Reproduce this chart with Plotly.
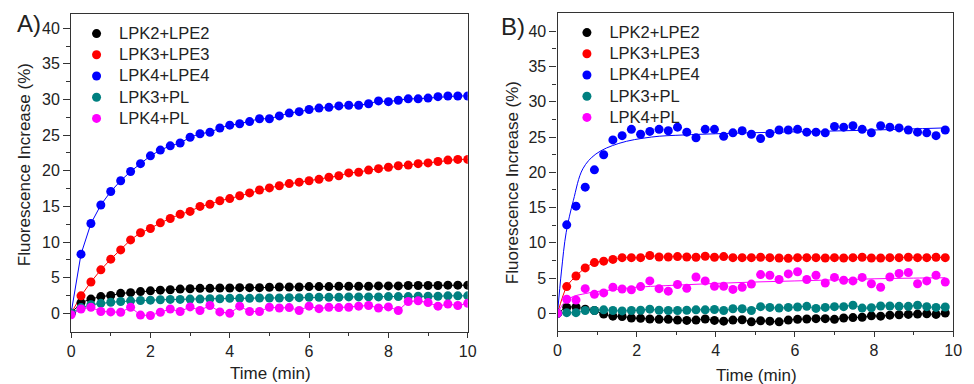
import plotly.graph_objects as go

# ---------------- data ----------------
time_a = [0, 0.25, 0.5, 0.75, 1.0, 1.25, 1.5, 1.75, 2.0, 2.25, 2.5, 2.75, 3.0, 3.25, 3.5, 3.75,
          4.0, 4.25, 4.5, 4.75, 5.0, 5.25, 5.5, 5.75, 6.0, 6.25, 6.5, 6.75, 7.0, 7.25, 7.5, 7.75,
          8.0, 8.25, 8.5, 8.75, 9.0, 9.25, 9.5, 9.75, 10.0]

a_lpk2_lpe2 = [0, 1.5, 2.0, 2.35, 2.5, 2.8, 2.9, 3.05, 3.15, 3.25, 3.3, 3.4, 3.45, 3.5, 3.5, 3.55,
               3.55, 3.6, 3.6, 3.6, 3.65, 3.7, 3.7, 3.7, 3.75, 3.75, 3.75, 3.8, 3.8, 3.8, 3.8, 3.85,
               3.85, 3.85, 3.9, 3.9, 3.9, 3.9, 3.95, 3.95, 3.95]
a_lpk3_lpe3 = [0, 2.45, 4.4, 6.1, 7.6, 8.9, 10.3, 11.3, 11.9, 12.7, 13.3, 13.9, 14.3, 15.0, 15.3, 15.8,
               16.1, 16.5, 16.9, 17.3, 17.6, 17.9, 18.2, 18.4, 18.6, 18.8, 19.1, 19.3, 19.7, 19.8, 20.1, 20.3,
               20.5, 20.7, 20.8, 21.0, 21.1, 21.3, 21.5, 21.6, 21.6]
a_lpk4_lpe4 = [0, 8.3, 12.6, 15.2, 17.1, 18.6, 19.9, 21.0, 22.1, 22.9, 23.5, 23.9, 24.7, 25.2, 25.4, 26.0,
               26.4, 26.6, 26.9, 27.3, 27.3, 27.7, 28.1, 28.3, 28.6, 28.8, 28.9, 29.1, 29.2, 29.2, 29.4, 29.8,
               29.7, 29.9, 30.1, 30.1, 30.2, 30.4, 30.5, 30.5, 30.5]
a_lpk3_pl = [0, 0.8, 1.2, 1.4, 1.55, 1.65, 1.75, 1.8, 1.85, 1.9, 1.95, 1.95, 2.0, 2.0, 2.05, 2.05,
             2.1, 2.1, 2.1, 2.15, 2.15, 2.15, 2.2, 2.2, 2.25, 2.25, 2.25, 2.25, 2.3, 2.3, 2.3, 2.3,
             2.35, 2.35, 2.35, 2.4, 2.4, 2.4, 2.45, 2.45, 2.45]
a_lpk4_pl = [-0.2, 0.6, 0.85, 0.25, 0.2, 0.15, 0.85, -0.25, -0.3, 0.15, 0.6, 0.25, 0.9, 0.4, 1.1, 0.2,
             0.0, 1.0, 0.25, 0.25, 0.85, 0.75, 0.8, 0.4, 1.0, 0.65, 0.85, 0.8, 0.85, 1.0, 1.1, 0.75,
             0.9, 0.4, 1.65, 1.75, 1.5, 1.0, 1.3, 1.1, 1.4]

time_b = [0, 0.233, 0.467, 0.7, 0.933, 1.167, 1.4, 1.633, 1.867, 2.1, 2.333, 2.567, 2.8, 3.033, 3.267,
          3.5, 3.733, 3.967, 4.2, 4.433, 4.667, 4.9, 5.133, 5.367, 5.6, 5.833, 6.067, 6.3, 6.533, 6.767,
          7.0, 7.233, 7.467, 7.7, 7.933, 8.167, 8.4, 8.633, 8.867, 9.1, 9.333, 9.567, 9.8]

b_lpk2_lpe2 = [0, 0.85, 0.9, 0.6, 0.4, -0.1, -0.4, -0.45, -0.65, -0.7, -0.8, -0.85, -0.85, -0.95, -1.0,
               -0.95, -0.8, -1.0, -1.1, -0.95, -0.9, -1.2, -1.05, -1.1, -1.2, -0.95, -0.85, -0.8, -0.75, -0.75,
               -0.85, -0.65, -0.6, -0.55, -0.35, -0.4, -0.25, -0.2, -0.15, -0.1, -0.05, -0.15, 0.05]
b_lpk3_lpe3 = [0, 3.8, 5.3, 6.45, 7.2, 7.4, 7.65, 7.9, 7.9, 7.9, 8.2, 8.0, 8.0, 8.05, 8.0,
               7.95, 8.1, 7.95, 8.05, 7.9, 7.9, 7.9, 7.95, 7.9, 7.85, 7.8, 7.9, 7.9, 7.9, 7.85,
               7.9, 7.85, 7.9, 7.95, 7.85, 7.85, 7.9, 7.9, 7.95, 7.9, 7.9, 7.95, 7.9]
b_lpk4_lpe4 = [0, 12.55, 15.2, 17.9, 20.35, 22.5, 24.6, 25.2, 26.1, 25.4, 25.8, 26.1, 25.9, 26.4, 25.7,
               24.9, 26.1, 26.1, 25.1, 25.6, 25.9, 25.4, 24.8, 25.5, 26.0, 26.0, 26.1, 25.7, 25.7, 25.6,
               26.5, 26.4, 26.6, 26.1, 25.6, 26.6, 26.4, 26.3, 26.0, 25.7, 25.6, 25.2, 26.0]
b_lpk3_pl = [0, 0.1, 0.1, 0.4, 0.4, 0.5, 0.4, 0.35, 0.4, 0.45, 0.6, 0.45, 0.4, 0.4, 0.45,
             0.5, 0.5, 0.55, 0.4, 0.65, 0.65, 0.4, 0.95, 0.85, 0.75, 0.85, 0.9, 1.0, 0.7, 0.85,
             0.95, 0.95, 1.15, 0.75, 0.8, 1.05, 1.05, 1.0, 1.0, 1.15, 0.95, 0.85, 0.9]
b_lpk4_pl = [0, 2.0, 1.9, 3.5, 2.7, 2.9, 3.7, 3.45, 3.35, 3.8, 4.6, 3.5, 3.15, 4.1, 3.55,
             5.15, 4.6, 3.85, 3.85, 3.4, 3.7, 4.15, 5.5, 5.4, 4.8, 5.6, 5.9, 4.8, 5.4, 4.3,
             5.1, 4.7, 4.6, 5.1, 4.2, 3.7, 5.15, 5.65, 5.8, 4.2, 4.6, 5.4, 4.45]

# fitted curves in panel B
fit_b_lpk4_lpe4_t = [0, 0.1, 0.22, 0.4, 0.64, 0.97, 1.55, 2.37, 3.2, 4.85, 6.5, 8.0, 9.8]
fit_b_lpk4_lpe4_v = [0, 6.0, 11.5, 16.0, 20.5, 22.6, 24.1, 25.0, 25.3, 25.6, 25.8, 26.0, 26.3]
fit_b_lpk4_pl_t = [0, 0.1, 0.22, 0.4, 0.7, 1.0, 1.5, 2, 3, 4, 5, 6, 7, 8, 9, 9.8]
fit_b_lpk4_pl_v = [0, 1.0, 1.8, 2.4, 2.8, 3.1, 3.4, 3.7, 4.0, 4.25, 4.45, 4.6, 4.75, 4.9, 5.0, 5.05]

names = ["LPK2+LPE2", "LPK3+LPE3", "LPK4+LPE4", "LPK3+PL", "LPK4+PL"]
colors = ["#000000", "#FF0000", "#0000FF", "#008080", "#FF00FF"]

# ---------------- figure ----------------
W, H = 974, 384
FONT = "Arial, Liberation Sans, sans-serif"
TXT = "#222222"

fig = go.Figure()

series_a = [a_lpk2_lpe2, a_lpk3_lpe3, a_lpk4_lpe4, a_lpk3_pl, a_lpk4_pl]
series_b = [b_lpk2_lpe2, b_lpk3_lpe3, b_lpk4_lpe4, b_lpk3_pl, b_lpk4_pl]

# Panel A lines
for ys, c in zip(series_a, colors):
    fig.add_trace(go.Scatter(x=time_a, y=ys, mode="lines", line=dict(color=c, width=1),
                             showlegend=False, xaxis="x", yaxis="y", hoverinfo="skip"))
# Panel B lines: connecting lines for black, red, teal; fits for blue and magenta
for i, (ys, c) in enumerate(zip(series_b, colors)):
    if i in (0, 1, 3):
        fig.add_trace(go.Scatter(x=time_b, y=ys, mode="lines",
                                 line=dict(color=c, width=1, shape="spline", smoothing=0.8),
                                 showlegend=False, xaxis="x2", yaxis="y2", hoverinfo="skip"))
fig.add_trace(go.Scatter(x=fit_b_lpk4_lpe4_t, y=fit_b_lpk4_lpe4_v, mode="lines",
                         line=dict(color=colors[2], width=1, shape="spline", smoothing=1.0),
                         showlegend=False, xaxis="x2", yaxis="y2"))
fig.add_trace(go.Scatter(x=fit_b_lpk4_pl_t, y=fit_b_lpk4_pl_v, mode="lines",
                         line=dict(color=colors[4], width=1, shape="spline", smoothing=1.0),
                         showlegend=False, xaxis="x2", yaxis="y2"))

LEG_TXT = '<span style="font-size:16.5px">{}</span>'

# markers
for ys, n, c in zip(series_a, names, colors):
    fig.add_trace(go.Scatter(x=time_a, y=ys, mode="markers", name=LEG_TXT.format(n),
                             marker=dict(color=c, size=9, line=dict(width=0)),
                             xaxis="x", yaxis="y", legend="legend"))
for ys, n, c in zip(series_b, names, colors):
    fig.add_trace(go.Scatter(x=time_b, y=ys, mode="markers", name=LEG_TXT.format(n),
                             marker=dict(color=c, size=9, line=dict(width=0)),
                             xaxis="x2", yaxis="y2", legend="legend2"))

def px_x(p):
    return p / W

def px_y(p):
    return 1 - p / H

axis_common = dict(showline=True, linecolor="#333333", linewidth=1.2, mirror=True,
                   showgrid=False, zeroline=False, color=TXT,
                   tickfont=dict(family=FONT, size=16, color=TXT))

xa = dict(axis_common, range=[0, 10], tickvals=[0, 2, 4, 6, 8, 10], ticks="outside",
          ticklen=5, tickwidth=1.2, tickcolor="#333333",
          minor=dict(tickvals=[1, 3, 5, 7, 9], ticks="outside", ticklen=3, tickcolor="#333333"))
ya_ticks = dict(tickvals=[0, 5, 10, 15, 20, 25, 30, 35, 40], ticks="outside", ticklen=7,
                tickwidth=1.2, tickcolor="#333333",
                minor=dict(tickvals=[2.5, 7.5, 12.5, 17.5, 22.5, 27.5, 32.5, 37.5],
                           ticks="outside", ticklen=4, tickcolor="#333333"))

legend_common = dict(xanchor="left", yanchor="top", bgcolor="rgba(0,0,0,0)",
                     font=dict(family=FONT, size=14, color=TXT),
                     itemwidth=35, tracegroupgap=0)

fig.update_layout(
    width=W, height=H,
    margin=dict(l=0, r=0, t=0, b=0),
    paper_bgcolor="white", plot_bgcolor="white",
    font=dict(family=FONT, color=TXT),
    xaxis=dict(xa, domain=[px_x(68), px_x(470)], anchor="y"),
    yaxis=dict(axis_common, **ya_ticks, range=[-2.58, 42.0],
               domain=[px_y(331.7), px_y(14)], anchor="x"),
    xaxis2=dict(xa, domain=[px_x(561), px_x(962)], anchor="y2"),
    yaxis2=dict(axis_common, **ya_ticks, range=[-2.5, 42.55],
                domain=[px_y(331), px_y(13.3)], anchor="x2"),
    legend=dict(legend_common, x=px_x(71), y=px_y(18)),
    legend2=dict(legend_common, x=px_x(568), y=px_y(17)),
    showlegend=True,
)

annots = [
    dict(text="A)", x=px_x(11), y=px_y(23.5), xanchor="left", yanchor="middle",
         font=dict(size=24)),
    dict(text="B)", x=px_x(502), y=px_y(26.5), xanchor="left", yanchor="middle",
         font=dict(size=24)),
    dict(text="Fluorescence Increase (%)", x=px_x(21), y=px_y(164.5), textangle=-90,
         xanchor="center", yanchor="middle", font=dict(size=17)),
    dict(text="Fluorescence Increase (%)", x=px_x(515), y=px_y(183), textangle=-90,
         xanchor="center", yanchor="middle", font=dict(size=17)),
    dict(text="Time (min)", x=px_x(270), y=px_y(373), xanchor="center", yanchor="middle",
         font=dict(size=17)),
    dict(text="Time (min)", x=px_x(762.5), y=px_y(375), xanchor="center", yanchor="middle",
         font=dict(size=17)),
]
for a in annots:
    a.update(xref="paper", yref="paper", showarrow=False)
    a["font"] = dict(family=FONT, color=TXT, **a["font"])
fig.update_layout(annotations=annots)

fig.write_html("out.html")
